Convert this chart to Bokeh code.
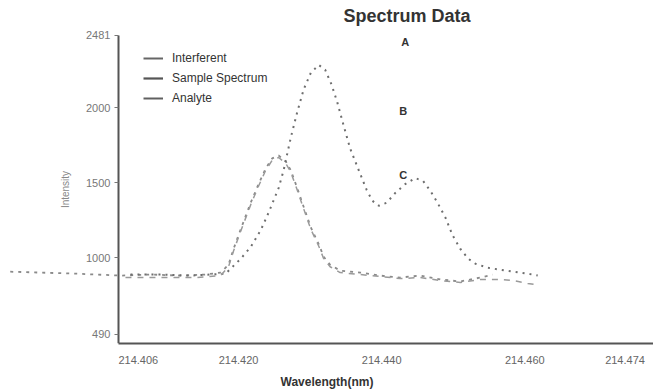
from bokeh.plotting import figure
from bokeh.models import Range1d, FixedTicker, Legend, LegendItem
from bokeh.core.properties import value
from bokeh.embed import file_html
from bokeh.resources import INLINE

# ---- data (wavelength nm, intensity) ----
sample_wl = [214.4049, 214.4091, 214.4133, 214.4161, 214.4182, 214.4203, 214.4217, 214.4231, 214.4242, 214.4256,
             214.4263, 214.4273, 214.4282, 214.4291, 214.4301, 214.4312, 214.4321, 214.4330, 214.4338, 214.4347,
             214.4356, 214.4368, 214.4379, 214.4387, 214.4396, 214.4407, 214.4419, 214.4433, 214.4447, 214.4458,
             214.4468, 214.4478, 214.4489, 214.4499, 214.4510, 214.4521, 214.4531, 214.4548, 214.4566, 214.4584,
             214.4604, 214.4618]
sample_int = [889, 889, 882, 889, 895, 994, 1072, 1184, 1301, 1465,
              1583, 1800, 1970, 2121, 2232, 2284, 2252, 2153, 2035, 1878,
              1727, 1583, 1452, 1380, 1347, 1367, 1432, 1491, 1531, 1511,
              1446, 1367, 1269, 1151, 1059, 994, 961, 934, 921, 908,
              895, 882]

interferent_wl = [214.3881, 214.3923, 214.3972, 214.4035, 214.4077, 214.4119, 214.4154, 214.4175, 214.4186, 214.4193,
                  214.4203, 214.4217, 214.4228, 214.4238, 214.4247, 214.4256, 214.4266, 214.4273, 214.4281, 214.4289,
                  214.4301, 214.4312, 214.4319, 214.4328, 214.4342, 214.4370, 214.4398, 214.4426, 214.4454, 214.4482,
                  214.4510, 214.4538, 214.4555]
interferent_int = [908, 902, 895, 882, 889, 882, 889, 902, 954, 1059,
                   1190, 1367, 1491, 1596, 1662, 1681, 1642, 1583, 1478, 1367,
                   1203, 1092, 1007, 954, 915, 902, 882, 869, 882, 856,
                   843, 869, 889]

analyte_wl = [214.4042, 214.4091, 214.4140, 214.4175, 214.4186, 214.4193, 214.4203, 214.4217, 214.4228, 214.4238,
              214.4247, 214.4256, 214.4266, 214.4273, 214.4281, 214.4289, 214.4301, 214.4312, 214.4319, 214.4328,
              214.4342, 214.4370, 214.4398, 214.4426, 214.4454, 214.4482, 214.4510, 214.4538, 214.4566, 214.4584,
              214.4604, 214.4615]
analyte_int = [869, 869, 869, 882, 941, 1046, 1177, 1354, 1478, 1583,
               1649, 1668, 1629, 1570, 1465, 1354, 1190, 1079, 994, 941,
               902, 889, 876, 862, 869, 849, 836, 856, 856, 849,
               830, 823]

x_ticks = [214.406, 214.420, 214.440, 214.460, 214.474]
x_tick_labels = ["214.406", "214.420", "214.440", "214.460", "214.474"]
y_ticks = [490, 1000, 1500, 2000, 2481]

marker_wl = [214.4433, 214.4430, 214.4430]
marker_int = [2435, 1976, 1550]
marker_text = ["A", "B", "C"]

FONT = "Liberation Sans"

p = figure(width=653, height=391, output_backend="svg", toolbar_location=None,
           x_range=Range1d(214.38674, 214.47798), y_range=Range1d(430, 2540),
           min_border_left=0, min_border_right=0, min_border_top=26, min_border_bottom=43)
p.background_fill_color = "white"
p.border_fill_color = "white"
p.outline_line_color = None
p.grid.visible = False

p.title.text = "Spectrum Data"
p.title.text_font = FONT
p.title.text_font_size = "18px"
p.title.text_font_style = "bold"
p.title.text_color = "#333333"
p.title.align = "left"
p.title.offset = 343
p.title.standoff = 2

# axes
p.yaxis.fixed_location = 214.40322
p.yaxis.bounds = (430, 2481)
p.yaxis.ticker = FixedTicker(ticks=y_ticks)
p.yaxis.axis_label = "Intensity"
p.yaxis.axis_label_text_font = FONT
p.yaxis.axis_label_text_font_size = "10px"
p.yaxis.axis_label_text_font_style = "normal"
p.yaxis.axis_label_text_color = "#888888"
p.yaxis.axis_label_standoff = 12
p.yaxis.major_label_text_font = FONT
p.yaxis.major_label_text_font_size = "11px"
p.yaxis.major_label_text_color = "#777777"
p.yaxis.major_label_standoff = 4
p.yaxis.axis_line_color = "#555555"
p.yaxis.axis_line_width = 2
p.yaxis.major_tick_line_color = "#777777"
p.yaxis.major_tick_out = 4
p.yaxis.major_tick_in = 0
p.yaxis.minor_tick_line_color = None

p.xaxis.bounds = (214.40322, 214.47798)
p.xaxis.ticker = FixedTicker(ticks=x_ticks)
p.xaxis.major_label_overrides = {t: l for t, l in zip(x_ticks, x_tick_labels)}
p.xaxis.axis_label = "Wavelength(nm)"
p.xaxis.axis_label_text_font = FONT
p.xaxis.axis_label_text_font_size = "12px"
p.xaxis.axis_label_text_font_style = "bold"
p.xaxis.axis_label_text_color = "#333333"
p.xaxis.axis_label_standoff = 8
p.xaxis.major_label_text_font = FONT
p.xaxis.major_label_text_font_size = "11px"
p.xaxis.major_label_text_color = "#666666"
p.xaxis.major_label_standoff = 6
p.xaxis.axis_line_color = "#555555"
p.xaxis.axis_line_width = 2
p.xaxis.major_tick_line_color = None
p.xaxis.minor_tick_line_color = None

# data lines
r_int = p.line(interferent_wl, interferent_int, line_color="#8a8a8a", line_width=1.8, line_dash="3 5")
r_smp = p.line(sample_wl, sample_int, line_color="#6e6e6e", line_width=2, line_dash="2 5")
r_ana = p.line(analyte_wl, analyte_int, line_color="#9a9a9a", line_width=1.5, line_dash="6 6")

# legend proxies (solid lines as in the reference legend); one point each, so nothing is drawn in the plot
l_int = p.line(interferent_wl[:1], interferent_int[:1], line_color="#666666", line_width=2)
l_smp = p.line(sample_wl[:1], sample_int[:1], line_color="#555555", line_width=2.2)
l_ana = p.line(analyte_wl[:1], analyte_int[:1], line_color="#606060", line_width=2)

legend = Legend(items=[LegendItem(label="Interferent", renderers=[l_int]),
                       LegendItem(label="Sample Spectrum", renderers=[l_smp]),
                       LegendItem(label="Analyte", renderers=[l_ana])],
                location=(143, 235))
legend.border_line_color = None
legend.background_fill_alpha = 0
legend.padding = 0
legend.margin = 0
legend.spacing = 0
legend.glyph_width = 20
legend.glyph_height = 20
legend.label_height = 20
legend.label_standoff = 9
legend.label_text_font = FONT
legend.label_text_font_size = "12px"
legend.label_text_color = "#333333"
p.add_layout(legend, "center")

p.text(marker_wl, marker_int, text=marker_text, text_font=value(FONT), text_font_size="11px",
       text_font_style="bold", text_color="#333333", text_align="center", text_baseline="middle")

open("out.html", "w").write(file_html(p, INLINE))
